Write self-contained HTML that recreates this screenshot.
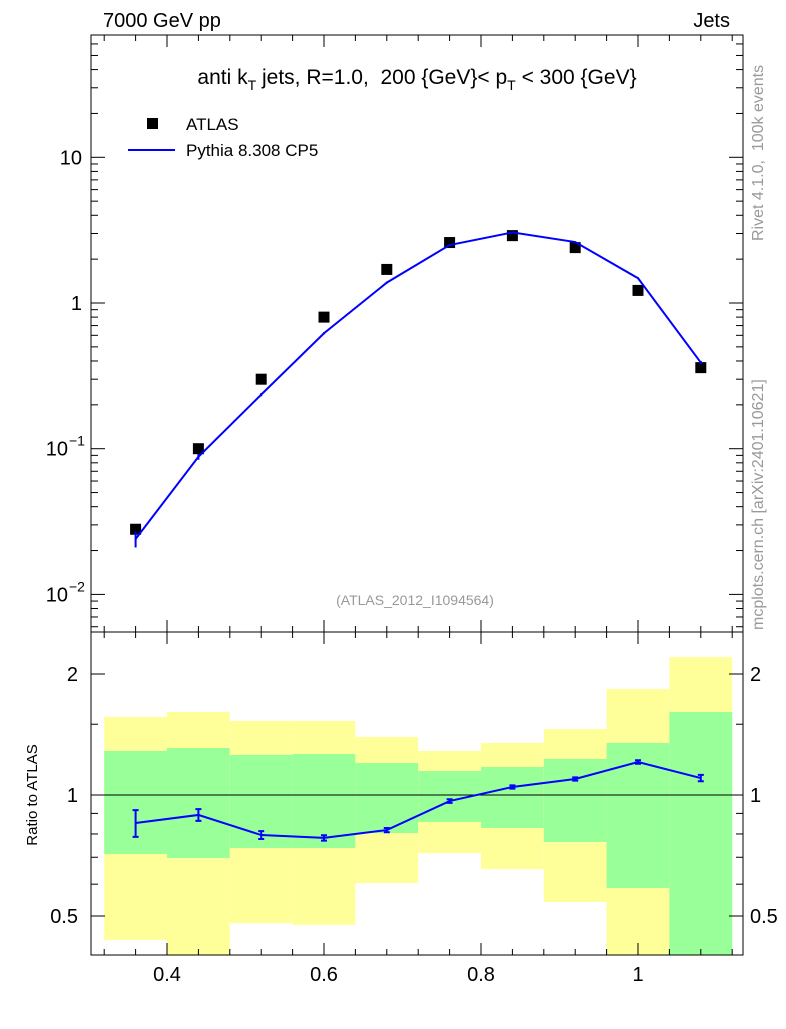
<!DOCTYPE html>
<html><head><meta charset="utf-8"><style>
body{margin:0;background:#fff;}
svg{font-family:"Liberation Sans",sans-serif;}
</style></head><body>
<svg id="c" width="786" height="1024" viewBox="0 0 786 1024" xmlns="http://www.w3.org/2000/svg">
<rect width="786" height="1024" fill="#fff"/>
<g id="bands"></g>
<g id="marks"></g>
<g id="axes"></g>
<text x="103" y="27" font-size="20">7000 GeV pp</text>
<text x="730" y="27" font-size="20" text-anchor="end">Jets</text>
<text x="417" y="84" font-size="21" text-anchor="middle" xml:space="preserve">anti k<tspan font-size="14" dy="6">T</tspan><tspan dy="-6"> jets, R=1.0,  200 {GeV}&lt; p</tspan><tspan font-size="14" dy="6">T</tspan><tspan dy="-6"> &lt; 300 {GeV}</tspan></text>
<rect x="147" y="118" width="11" height="11" fill="#000"/>
<text x="186" y="130" font-size="17">ATLAS</text>
<line x1="128" y1="150" x2="175" y2="150" stroke="#00f" stroke-width="2"/>
<text x="186" y="156" font-size="17">Pythia 8.308 CP5</text>
<text x="415" y="605" font-size="14" fill="#999" text-anchor="middle">(ATLAS_2012_I1094564)</text>
<text transform="translate(763,241) rotate(-90)" font-size="16" fill="#999" xml:space="preserve">Rivet 4.1.0,  100k events</text>
<text transform="translate(763,630) rotate(-90)" font-size="16" fill="#999">mcplots.cern.ch [arXiv:2401.10621]</text>
<text transform="translate(37,795) rotate(-90)" font-size="15" text-anchor="middle">Ratio to ATLAS</text>
</svg>
<script>
const xc=[0.36,0.44,0.52,0.60,0.68,0.76,0.84,0.92,1.00,1.08];
const edges=[0.32,0.40,0.48,0.56,0.64,0.72,0.80,0.88,0.96,1.04,1.12];
const atlas=[0.028,0.10,0.30,0.80,1.70,2.60,2.90,2.40,1.22,0.36];
const mc=[0.024,0.088,0.235,0.62,1.38,2.5,3.05,2.62,1.48,0.39];
const mcErr=[0.003,0.004,0.006,0.01,0.02,0.03,0.04,0.03,0.02,0.01];
const ratio=[0.852,0.892,0.795,0.782,0.818,0.966,1.047,1.096,1.208,1.102];
const ratioErr=[0.065,0.03,0.018,0.012,0.01,0.01,0.01,0.01,0.012,0.02];
const greenHi=[1.287,1.309,1.258,1.265,1.201,1.147,1.174,1.229,1.347,1.609];
const greenLo=[0.713,0.697,0.738,0.738,0.804,0.857,0.828,0.764,0.587,0.4];
const yelHi=[1.564,1.609,1.528,1.528,1.394,1.287,1.347,1.459,1.835,2.204];
const yelLo=[0.436,0.4,0.48,0.475,0.604,0.717,0.654,0.542,0.4,0.4];
const xTicks=[0.4,0.6,0.8,1.0];
const xTickLabels=["0.4","0.6","0.8","1"];
const yMain=[10,1,0.1,0.01];
const rTicks=[2,1,0.5];
const rTickLabels=["2","1","0.5"];
const L=91,R=743,T=35,MB=632,RB=955;
const X=v=>167+(v-0.4)*785;
const Y=v=>303-Math.log10(v)*145.7;
const YR=v=>795-Math.log2(v)*121;
const NS="http://www.w3.org/2000/svg";
function mk(tag,at,parent){const e=document.createElementNS(NS,tag);for(const k in at)e.setAttribute(k,at[k]);document.getElementById(parent).appendChild(e);return e;}
for(let i=0;i<xc.length;i++){
 const x1=X(edges[i]),x2=X(edges[i+1]);
 const yh=Math.max(MB,YR(yelHi[i])),yl=Math.min(RB,YR(yelLo[i]));
 let r=mk('rect',{x:x1,y:yh,width:x2-x1,height:yl-yh,fill:'#ffff99'},'bands');
 
 
 const gh=YR(greenHi[i]),gl=Math.min(RB,YR(greenLo[i]));
 r=mk('rect',{x:x1,y:gh,width:x2-x1,height:gl-gh,fill:'#99ff99'},'bands');
 
 
}
let ref=mk('line',{x1:L,x2:R,y1:YR(1),y2:YR(1),stroke:'#000','stroke-width':1},'marks');


for(let i=0;i<xc.length;i++){
 const p=mk('rect',{x:X(xc[i])-5.5,y:Y(atlas[i])-5.5,width:11,height:11,fill:'#000'},'marks');
 
 
}
let pl=mk('polyline',{points:xc.map((v,i)=>X(v)+','+Y(mc[i])).join(' '),fill:'none',stroke:'#00f','stroke-width':2},'marks');


for(let i=0;i<xc.length;i++){
 const e=mk('line',{x1:X(xc[i]),x2:X(xc[i]),y1:Y(mc[i]+mcErr[i]),y2:Y(mc[i]-mcErr[i]),stroke:'#00f','stroke-width':2},'marks');
 
 
}
let rl=mk('polyline',{points:xc.map((v,i)=>X(v)+','+YR(ratio[i])).join(' '),fill:'none',stroke:'#00f','stroke-width':2},'marks');


for(let i=0;i<xc.length;i++){
 const x=X(xc[i]),y1=YR(ratio[i]+ratioErr[i]),y2=YR(ratio[i]-ratioErr[i]);
 const e=mk('path',{d:`M${x},${y1}V${y2}M${x-3},${y1}H${x+3}M${x-3},${y2}H${x+3}`,stroke:'#00f','stroke-width':2,fill:'none'},'marks');
 
 
}
let f=mk('rect',{x:L,y:T,width:R-L,height:MB-T,fill:'none',stroke:'#000','stroke-width':1},'axes');


f=mk('rect',{x:L,y:MB,width:R-L,height:RB-MB,fill:'none',stroke:'#000','stroke-width':1},'axes');


for(let i=0;i<xTicks.length;i++){
 const x=X(xTicks[i]);
 for(const [a,b] of [[MB,MB-12],[T,T+12],[RB,RB-12],[MB,MB+12]]) mk('line',{x1:x,x2:x,y1:a,y2:b,stroke:'#000'},'axes');
 const t=mk('text',{x:x,y:981,'font-size':20,'text-anchor':'middle'},'axes');
 t.textContent=xTickLabels[i];
 
 
}
for(let v=0.32;v<1.13;v+=0.04){const x=X(v);
 for(const [a,b] of [[MB,MB-6],[T,T+6],[RB,RB-6],[MB,MB+6]]) mk('line',{x1:x,x2:x,y1:a,y2:b,stroke:'#000'},'axes');}
const ml={10:"10",1:"1",0.1:"10",0.01:"10"};
for(const v of yMain){const y=Y(v);
 mk('line',{x1:L,x2:L+14,y1:y,y2:y,stroke:'#000'},'axes');mk('line',{x1:R,x2:R-14,y1:y,y2:y,stroke:'#000'},'axes');
 const t=mk('text',{x:v<1?68:82,y:y+7,'font-size':20,'text-anchor':'end'},'axes');
 t.textContent=ml[v];
 
 
 if(v<1){const s=mk('text',{x:69,y:y-3,'font-size':14},'axes');s.textContent=v==0.1?'−1':'−2';}
 for(let k=2;k<10;k++){const yy=Y(v*k);if(yy>T&&yy<MB){mk('line',{x1:L,x2:L+7,y1:yy,y2:yy,stroke:'#000'},'axes');mk('line',{x1:R,x2:R-7,y1:yy,y2:yy,stroke:'#000'},'axes');}}
}
for(let k=2;k<10;k++){const yy=Y(0.001*k);if(yy>T&&yy<MB){mk('line',{x1:L,x2:L+7,y1:yy,y2:yy,stroke:'#000'},'axes');mk('line',{x1:R,x2:R-7,y1:yy,y2:yy,stroke:'#000'},'axes');}}
for(let i=0;i<rTicks.length;i++){const y=YR(rTicks[i]);
 mk('line',{x1:L,x2:L+14,y1:y,y2:y,stroke:'#000'},'axes');mk('line',{x1:R,x2:R-14,y1:y,y2:y,stroke:'#000'},'axes');
 let t=mk('text',{x:78,y:y+7,'font-size':20,'text-anchor':'end'},'axes');t.textContent=rTickLabels[i];
 
 
 t=mk('text',{x:750,y:y+7,'font-size':20},'axes');t.textContent=rTickLabels[i];
 
 
}
for(const v of [0.6,0.7,0.8,0.9,1.5]){const y=YR(v);mk('line',{x1:L,x2:L+7,y1:y,y2:y,stroke:'#000'},'axes');mk('line',{x1:R,x2:R-7,y1:y,y2:y,stroke:'#000'},'axes');}
</script>
</body></html>
